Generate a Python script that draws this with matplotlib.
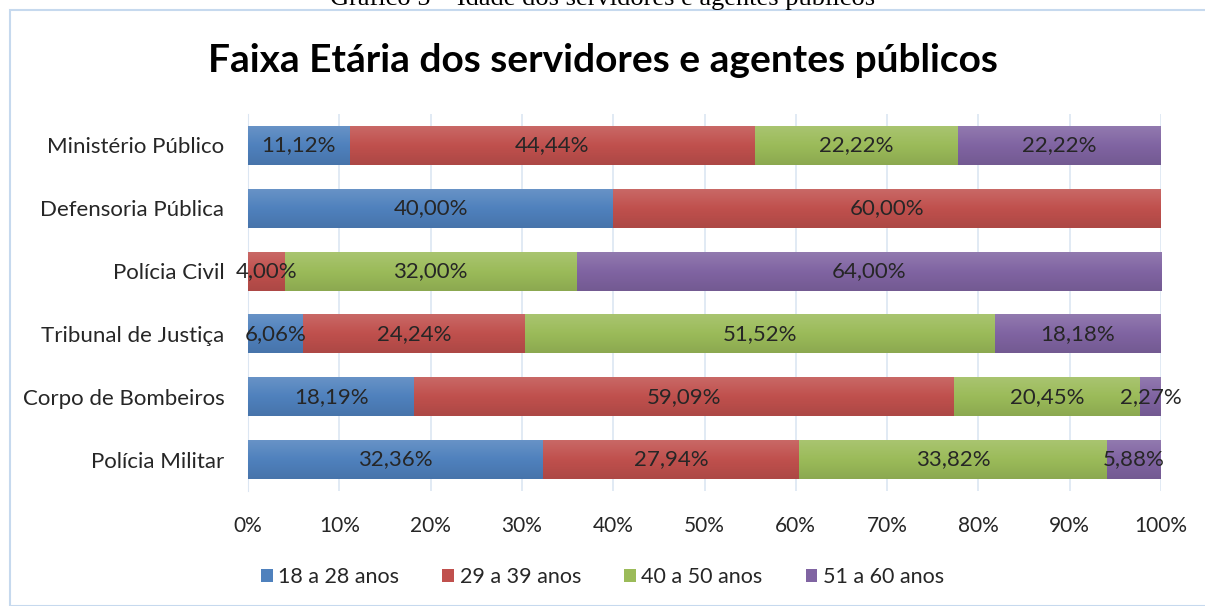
import numpy as np
import matplotlib.pyplot as plt
from matplotlib.patches import Rectangle
from matplotlib.colors import to_rgb, LinearSegmentedColormap

# dados do gráfico
categorias = ['Ministério Público', 'Defensoria Pública', 'Polícia Civil',
              'Tribunal de Justiça', 'Corpo de Bombeiros', 'Polícia Militar']
faixas = ['18 a 28 anos', '29 a 39 anos', '40 a 50 anos', '51 a 60 anos']
v_18_28 = [11.12, 40.00, 0.00, 6.06, 18.19, 32.36]
v_29_39 = [44.44, 60.00, 4.00, 24.24, 59.09, 27.94]
v_40_50 = [22.22, 0.00, 32.00, 51.52, 20.45, 33.82]
v_51_60 = [22.22, 0.00, 64.00, 18.18, 2.27, 5.88]
ticks_x = [0, 10, 20, 30, 40, 50, 60, 70, 80, 90, 100]

cores = ['#4F81BD', '#C0504D', '#9BBB59', '#8064A2']
series = [v_18_28, v_29_39, v_40_50, v_51_60]


def degrade(cor):
    # mais claro em cima, mais escuro em baixo (estilo Excel)
    c = np.array(to_rgb(cor))
    topo = c + (1 - c) * 0.14
    base = c * 0.90
    return LinearSegmentedColormap.from_list('g', [topo, c, base])


plt.rcParams['font.family'] = ['Lato', 'DejaVu Sans']

fig = plt.figure(figsize=(12.05, 6.06), dpi=100)
ax = fig.add_axes([248 / 1205, 1 - 491 / 606, 913 / 1205, 377 / 606])

# moldura do gráfico
fig.patches.append(Rectangle((10 / 1205, 0), 1.2, 1 - 10 / 606, transform=fig.transFigure,
                             fill=False, edgecolor='#C6D9EE', linewidth=1.5))

# legenda cortada do documento
fig.text(0.5, 1 - 5 / 606, 'Gráfico 5 – Idade dos servidores e agentes públicos',
         ha='center', va='baseline', fontsize=19, family='Liberation Serif')

y = np.arange(len(categorias))
esquerda = np.zeros(len(categorias))
grad = np.linspace(0, 1, 64).reshape(-1, 1)
for vals, cor, nome in zip(series, cores, faixas):
    vals = np.array(vals)
    barras = ax.barh(y, vals, left=esquerda, height=0.62, color=cor, label=nome, zorder=3)
    cmap = degrade(cor)
    for b in barras:
        if b.get_width() <= 0:
            continue
        x0, y0 = b.get_x(), b.get_y()
        im = ax.imshow(grad, cmap=cmap, aspect='auto', zorder=3.1,
                       extent=[x0, x0 + b.get_width(), y0 + b.get_height(), y0],
                       interpolation='bilinear')
        im.set_clip_path(b)
    for yi, v, l in zip(y, vals, esquerda):
        if v > 0:
            ax.text(l + v / 2, yi, '{:.2f}%'.format(v).replace('.', ','),
                    ha='center', va='center', fontsize=16, color='#262626', zorder=4)
    esquerda += vals

ax.set_xlim(0, 100)
ax.set_ylim(len(categorias) - 0.5, -0.5)
ax.set_yticks(y)
ax.set_yticklabels(categorias, fontsize=16, color='#262626')
ax.set_xticks(ticks_x)
ax.set_xticklabels(['{}%'.format(t) for t in ticks_x], fontsize=15, color='#262626')
ax.tick_params(length=0, pad=17, axis='y')
ax.tick_params(length=0, pad=18, axis='x')
ax.grid(axis='x', color='#DCE6F2', linewidth=1.2, zorder=0)
for s in ['top', 'right', 'bottom']:
    ax.spines[s].set_visible(False)
ax.spines['left'].set_color('#DCE6F2')

fig.text(0.5, 1 - 60 / 606, 'Faixa Etária dos servidores e agentes públicos',
         ha='center', va='center', fontsize=28, fontweight='bold')

fig.legend(loc='center', bbox_to_anchor=(0.5, 1 - 577 / 606), ncol=4, frameon=False,
           fontsize=15.5, handlelength=0.55, handleheight=0.55, handletextpad=0.25,
           columnspacing=2.0, labelcolor='#262626')

fig.savefig('out.png', dpi=100)
